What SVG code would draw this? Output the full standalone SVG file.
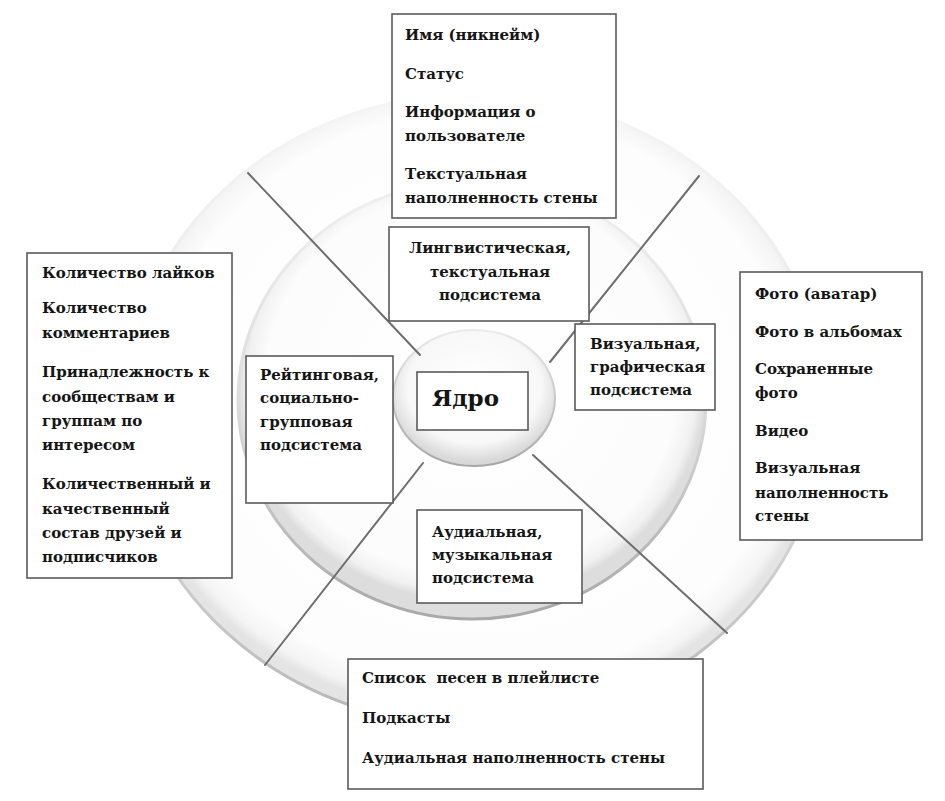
<svg xmlns="http://www.w3.org/2000/svg" width="945" height="801" viewBox="0 0 945 801">
<defs>
<radialGradient id="gOuter" cx="0.5" cy="0.48" r="0.5">
<stop offset="0" stop-color="#ffffff"/>
<stop offset="0.9" stop-color="#fdfdfd"/>
<stop offset="0.97" stop-color="#f4f4f4"/>
<stop offset="1" stop-color="#e4e4e4"/>
</radialGradient>
<linearGradient id="sOuter" x1="0" y1="0" x2="0" y2="1">
<stop offset="0" stop-color="#f5f5f5"/>
<stop offset="0.5" stop-color="#e8e8e8"/>
<stop offset="1" stop-color="#b5b5b5"/>
</linearGradient>
<radialGradient id="gMid" cx="0.5" cy="0.46" r="0.5">
<stop offset="0" stop-color="#ffffff"/>
<stop offset="0.88" stop-color="#fcfcfc"/>
<stop offset="0.96" stop-color="#f1f1f1"/>
<stop offset="1" stop-color="#dddddd"/>
</radialGradient>
<linearGradient id="sMid" x1="0" y1="0" x2="0" y2="1">
<stop offset="0" stop-color="#f0f0f0"/>
<stop offset="0.5" stop-color="#dcdcdc"/>
<stop offset="1" stop-color="#a8a8a8"/>
</linearGradient>
<radialGradient id="gCore" cx="0.5" cy="0.42" r="0.55">
<stop offset="0" stop-color="#ffffff"/>
<stop offset="0.75" stop-color="#f8f8f8"/>
<stop offset="1" stop-color="#d8d8d8"/>
</radialGradient>
<linearGradient id="sCore" x1="0" y1="0" x2="0" y2="1">
<stop offset="0" stop-color="#ebebeb"/>
<stop offset="1" stop-color="#a5a5a5"/>
</linearGradient>
<style>
.box{fill:#ffffff;stroke:#5a5a5a;stroke-width:1.6}
.t{font-family:'DejaVu Serif','Liberation Serif',serif;font-weight:700;font-size:15px;fill:#151515}
.c{text-anchor:middle}
.core{font-size:23px}
.ln{stroke:#6e6e6e;stroke-width:2;fill:none;stroke-linecap:round}
</style>
</defs>
<rect width="945" height="801" fill="#ffffff"/>
<g id="discs">
<ellipse cx="475" cy="410" rx="350" ry="316" fill="url(#gOuter)" stroke="url(#sOuter)" stroke-width="3"/>
<ellipse cx="472" cy="400" rx="234" ry="219" fill="url(#gMid)" stroke="url(#sMid)" stroke-width="3"/>
<ellipse cx="474" cy="398" rx="81" ry="68" fill="url(#gCore)" stroke="url(#sCore)" stroke-width="2"/>
</g>
<g id="connectors">
<line class="ln" x1="248" y1="173" x2="420" y2="355"/>
<line class="ln" x1="699" y1="176" x2="550" y2="362"/>
<line class="ln" x1="423" y1="463" x2="265" y2="665"/>
<line class="ln" x1="533" y1="455" x2="727" y2="633"/>
</g>
<g id="core">
<rect class="box" x="417" y="372" width="111" height="58"/>
<text class="t core" x="432" y="406">Ядро</text>
</g>
<g id="linguistic">
<rect class="box" x="389" y="227" width="200" height="94"/>
<text class="t c" x="490" y="253">Лингвистическая,</text>
<text class="t c" x="490" y="277">текстуальная</text>
<text class="t c" x="490" y="300">подсистема</text>
</g>
<g id="visual">
<rect class="box" x="575" y="324" width="140" height="86"/>
<text class="t" x="590" y="349">Визуальная,</text>
<text class="t" x="590" y="372">графическая</text>
<text class="t" x="590" y="395">подсистема</text>
</g>
<g id="rating">
<rect class="box" x="246" y="356" width="147" height="147"/>
<text class="t" x="260" y="380">Рейтинговая,</text>
<text class="t" x="260" y="403">социально-</text>
<text class="t" x="260" y="427">групповая</text>
<text class="t" x="260" y="450">подсистема</text>
</g>
<g id="audio">
<rect class="box" x="417" y="510" width="165" height="93"/>
<text class="t" x="432" y="537">Аудиальная,</text>
<text class="t" x="432" y="560">музыкальная</text>
<text class="t" x="432" y="583">подсистема</text>
</g>
<g id="top-list">
<rect class="box" x="392" y="14" width="224" height="204"/>
<text class="t" x="405" y="40">Имя (никнейм)</text>
<text class="t" x="405" y="79">Статус</text>
<text class="t" x="405" y="117">Информация о</text>
<text class="t" x="405" y="141">пользователе</text>
<text class="t" x="405" y="179">Текстуальная</text>
<text class="t" x="405" y="203">наполненность стены</text>
</g>
<g id="left-list">
<rect class="box" x="27" y="253" width="205" height="325"/>
<text class="t" x="42" y="278">Количество лайков</text>
<text class="t" x="42" y="313">Количество</text>
<text class="t" x="42" y="338">комментариев</text>
<text class="t" x="42" y="377">Принадлежность к</text>
<text class="t" x="42" y="402">сообществам и</text>
<text class="t" x="42" y="426">группам по</text>
<text class="t" x="42" y="450">интересом</text>
<text class="t" x="42" y="489">Количественный и</text>
<text class="t" x="42" y="514">качественный</text>
<text class="t" x="42" y="538">состав друзей и</text>
<text class="t" x="42" y="562">подписчиков</text>
</g>
<g id="right-list">
<rect class="box" x="740" y="272" width="182" height="268"/>
<text class="t" x="755" y="299">Фото (аватар)</text>
<text class="t" x="755" y="337">Фото в альбомах</text>
<text class="t" x="755" y="374">Сохраненные</text>
<text class="t" x="755" y="398">фото</text>
<text class="t" x="755" y="436">Видео</text>
<text class="t" x="755" y="473">Визуальная</text>
<text class="t" x="755" y="498">наполненность</text>
<text class="t" x="755" y="521">стены</text>
</g>
<g id="bottom-list">
<rect class="box" x="348" y="659" width="355" height="130"/>
<text class="t" x="362" y="683" xml:space="preserve">Список  песен в плейлисте</text>
<text class="t" x="362" y="723">Подкасты</text>
<text class="t" x="362" y="763">Аудиальная наполненность стены</text>
</g>
</svg>
